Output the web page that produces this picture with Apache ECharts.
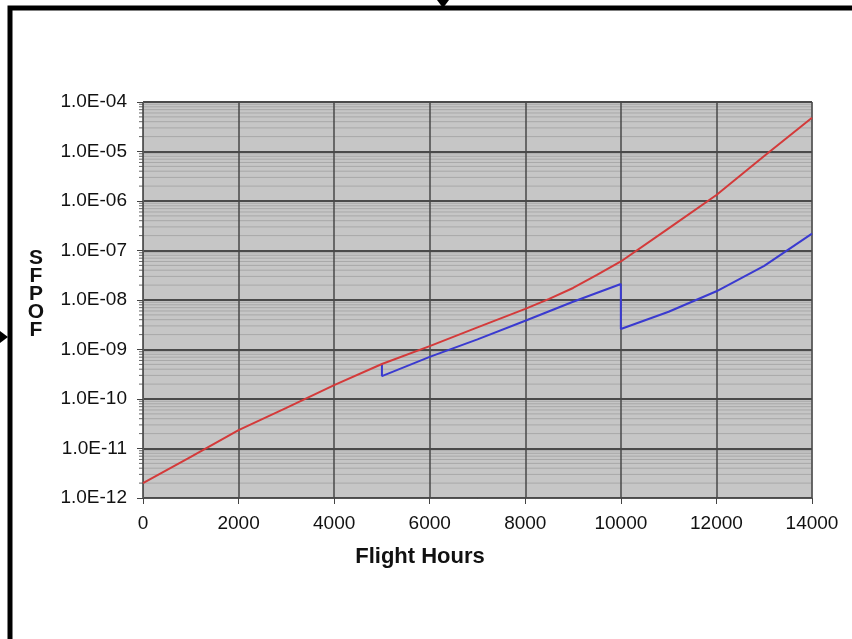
<!DOCTYPE html>
<html><head><meta charset="utf-8">
<script src="https://cdn.jsdelivr.net/npm/echarts@6/dist/echarts.min.js"></script>
<style>html,body{margin:0;padding:0;background:#fff}#c{width:852px;height:639px}</style>
</head><body><div id="c"></div>
<script>
// Data
const hours = [0,1000,2000,3000,4000,5000,6000,7000,8000,8500,9000,9500,10000,11000,12000,13000,14000];
const redValues = [2.0e-12,6.8e-12,2.36e-11,6.6e-11,1.9e-10,5.1e-10,1.17e-9,2.8e-9,6.6e-9,1.05e-8,1.75e-8,3.2e-8,6.0e-8,2.8e-7,1.32e-6,8.1e-6,4.8e-5];
const blueHours  = [5000,5000,6000,7000,8000,9000,10000,10000,11000,12000,13000,14000];
const blueValues = [5.1e-10,2.9e-10,7.1e-10,1.6e-9,3.8e-9,9.2e-9,2.1e-8,2.6e-9,5.8e-9,1.5e-8,4.9e-8,2.2e-7];
const xTicks = [0,2000,4000,6000,8000,10000,12000,14000];
const yDecades = [-12,-11,-10,-9,-8,-7,-6,-5,-4];

const redSeries = hours.map((h,i)=>[h, redValues[i]]);
const blueSeries = blueHours.map((h,i)=>[h, blueValues[i]]);
const minorValues = [];
for (let k=0;k<yDecades.length-1;k++){
  for (let m=2;m<=9;m++) minorValues.push([xTicks[0], m*Math.pow(10,yDecades[k])]);
}
const X_MIN = xTicks[0], X_MAX = xTicks[xTicks.length-1];
function fmtY(v){
  const e = Math.round(Math.log10(v));
  const a = Math.abs(e);
  return '1.0E' + (e<0?'-':'+') + (a<10?'0':'') + a;
}
const chart = echarts.init(document.getElementById('c'), null, {renderer:'canvas'});
chart.setOption({
  animation:false,
  backgroundColor:'#ffffff',
  grid:{left:143,right:40,top:102,bottom:141,show:true,backgroundColor:'#c6c6c6',borderColor:'#9a9a9a',borderWidth:1},
  xAxis:{type:'value',min:X_MIN,max:X_MAX,interval:2000,z:2,
    axisLine:{show:true,onZero:false,lineStyle:{color:'#555',width:1}},
    axisTick:{show:true,length:6,lineStyle:{color:'#444'}},
    axisLabel:{fontFamily:'Liberation Sans, Arial',fontSize:19,color:'#111',margin:16,formatter:v=>String(v)},
    splitLine:{show:true,lineStyle:{color:'#484848',width:1.5}}},
  yAxis:{type:'log',logBase:10,min:1e-12,max:1e-4,interval:1,z:2,
    axisLine:{show:true,lineStyle:{color:'#555',width:1}},
    axisTick:{show:true,length:6,lineStyle:{color:'#444'}},
    axisLabel:{fontFamily:'Liberation Sans, Arial',fontSize:19,color:'#111',margin:16,formatter:fmtY},
    splitLine:{show:true,lineStyle:{color:'#4a4a4a',width:2}}},
  series:[
    {type:'custom',data:minorValues,silent:true,clip:false,z:1,
     renderItem:function(params,api){
       const v = api.value(1);
       const p0 = api.coord([X_MIN, v]);
       const p1 = api.coord([X_MAX, v]);
       return {type:'group',children:[
         {type:'line',shape:{x1:p0[0]+1,y1:p0[1],x2:p1[0],y2:p1[1]},style:{stroke:'#a8a8a8',lineWidth:1}},
         {type:'line',shape:{x1:p0[0]-4,y1:p0[1],x2:p0[0],y2:p0[1]},style:{stroke:'#666',lineWidth:1}}
       ]};
     }},
    {type:'line',data:blueSeries,showSymbol:false,lineStyle:{color:'#3a3ad0',width:2},z:3},
    {type:'line',data:redSeries,showSymbol:false,lineStyle:{color:'#d43a3a',width:2},z:4}
  ],
  graphic:[
    {type:'rect',shape:{x:10,y:8,width:860,height:640},style:{fill:'none',stroke:'#000',lineWidth:5},z:10},
    {type:'polygon',shape:{points:[[437,0],[449,0],[443,8]]},style:{fill:'#000'},z:10},
    {type:'polygon',shape:{points:[[0,331],[0,343],[8,337]]},style:{fill:'#000'},z:10},
    {type:'text',x:36,y:249,style:{text:'S\nF\nP\nO\nF',font:'bold 21px Liberation Sans, Arial',fill:'#111',align:'center',lineHeight:18},z:10},
    {type:'text',x:420,y:546,style:{text:'Flight Hours',font:'bold 22px Liberation Sans, Arial',fill:'#111',align:'center'},z:10}
  ]
});
</script></body></html>
